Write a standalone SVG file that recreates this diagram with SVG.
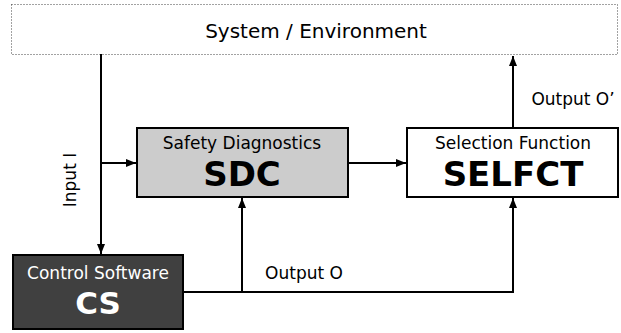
<svg xmlns="http://www.w3.org/2000/svg" width="621" height="333" viewBox="0 0 621 333">
<style>
text{font-family:"DejaVu Sans","Verdana",sans-serif;text-anchor:middle}
.sub{font-size:17px}
.big{font-size:34px;font-weight:bold}
.lbl{font-size:17px}
.box{stroke:#000;stroke-width:2}
.con{fill:none;stroke:#000;stroke-width:2}
</style>
<defs>
<marker id="ah" markerWidth="10" markerHeight="8" refX="10" refY="4" orient="auto" markerUnits="userSpaceOnUse">
<path d="M0,0 L10,4 L0,8 Z" fill="#000"/>
</marker>
</defs>
<rect width="621" height="333" fill="#fff"/>
<g id="env">
<rect x="11.5" y="4.5" width="606" height="50" fill="#fff" stroke="#444" stroke-width="1" stroke-dasharray="1,2"/>
<text x="316" y="38" style="font-size:20px">System / Environment</text>
</g>
<g id="connectors">
<path class="con" d="M101,54 V254" marker-end="url(#ah)"/>
<path class="con" d="M101,163 H136" marker-end="url(#ah)"/>
<path class="con" d="M348,163 H406" marker-end="url(#ah)"/>
<path class="con" d="M183,292 H513 V198" marker-end="url(#ah)"/>
<path class="con" d="M242,292 V198" marker-end="url(#ah)"/>
<path class="con" d="M513,128 V56" marker-end="url(#ah)"/>
<text class="lbl" transform="translate(76,180) rotate(-90)">Input I</text>
<text class="lbl" x="304" y="279">Output O</text>
<text class="lbl" x="573" y="105">Output O’</text>
</g>
<g id="SDC">
<rect class="box" x="137" y="128" width="211" height="69" fill="#cccccc"/>
<text class="sub" x="242" y="149">Safety Diagnostics</text>
<text class="big" x="242" y="186">SDC</text>
</g>
<g id="SELFCT">
<rect class="box" x="407" y="128" width="211" height="69" fill="#fff"/>
<text class="sub" x="513" y="149">Selection Function</text>
<text class="big" x="513" y="186">SELFCT</text>
</g>
<g id="CS">
<rect class="box" x="13" y="255" width="170" height="74" fill="#404040"/>
<text class="sub" x="98" y="279" fill="#fff">Control Software</text>
<text class="big" x="98" y="314" fill="#fff" style="font-size:31px">CS</text>
</g>
</svg>
